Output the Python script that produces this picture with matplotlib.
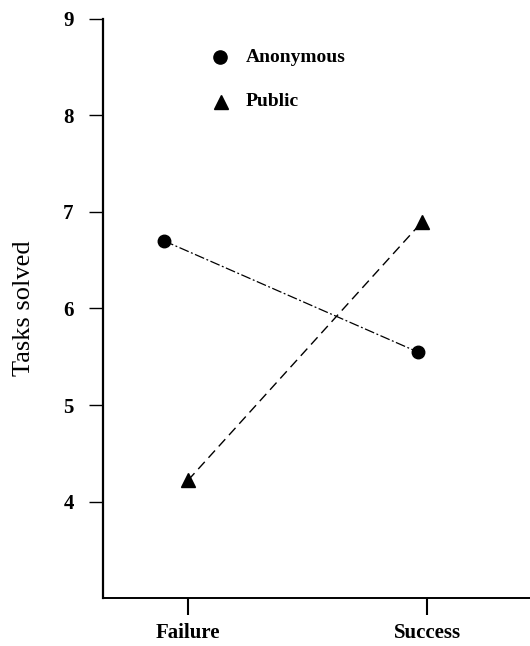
import numpy as np
import matplotlib.pyplot as plt

plt.rcParams['font.family'] = ['Liberation Serif', 'DejaVu Serif']

conditions = ['Failure', 'Success']
anonymous = [6.70, 5.55]
public = [4.22, 6.90]

x = np.arange(len(conditions))

fig = plt.figure(figsize=(5.30, 6.46), dpi=100)
ax = fig.add_axes([0.194, 0.074, 0.806, 0.897])

# anonymous points sit a bit left of the tick marks in the original
ax.plot(x + np.array([-0.1, -0.04]), anonymous, color='black', lw=0.9,
        dashes=(8, 2, 1.5, 2), marker='o', ms=9)
ax.plot(x + np.array([0.0, -0.02]), public, color='black', lw=1.0,
        dashes=(7, 4), marker='^', ms=10.5)

ax.set_xlim(-0.356, 1.43)
ax.set_ylim(3.0, 9.0)
ax.set_yticks([4, 5, 6, 7, 8, 9])
ax.set_xticks(x)
ax.set_xticklabels(conditions, fontsize=15, fontweight='bold')
for lab in ax.get_yticklabels():
    lab.set_fontweight('bold')
ax.tick_params(axis='y', direction='out', length=10, width=1, pad=11, labelsize=15)
ax.tick_params(axis='x', direction='out', length=12, width=1.5, pad=6)
ax.set_ylabel('Tasks solved', fontsize=19, labelpad=20)

for s in ['top', 'right']:
    ax.spines[s].set_visible(False)
ax.spines['left'].set_linewidth(1.6)
ax.spines['bottom'].set_linewidth(1.4)

# legend drawn as plain marks + text, like the original
ax.plot([0.135], [8.6], marker='o', color='black', ms=9.5)
ax.text(0.24, 8.6, 'Anonymous', fontsize=14, fontweight='bold', va='center')
ax.plot([0.14], [8.14], marker='^', color='black', ms=10)
ax.text(0.24, 8.14, 'Public', fontsize=14, fontweight='bold', va='center')

fig.savefig('out.png', dpi=100)
